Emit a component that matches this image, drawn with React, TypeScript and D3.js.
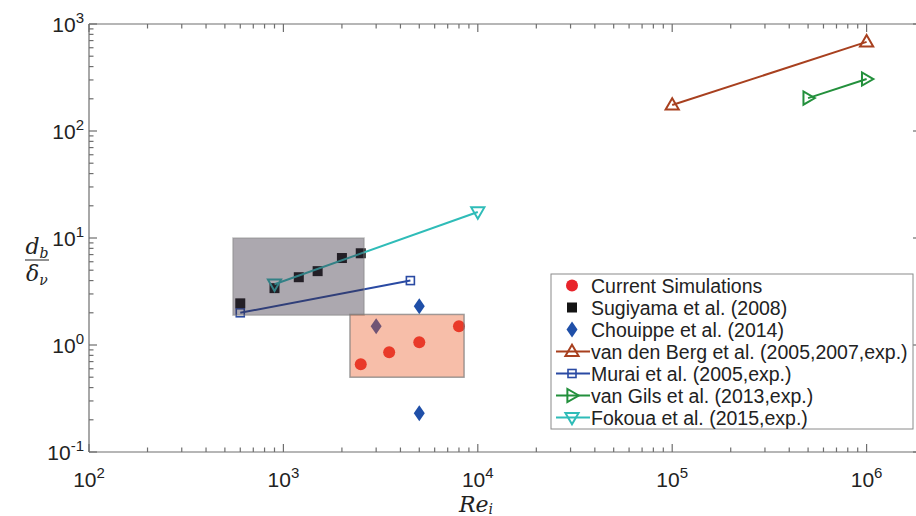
import React from 'react';
import * as d3 from 'd3';

// ---- data ----
const simRe = [2500, 3500, 5000, 8000];
const simDb = [0.66, 0.855, 1.06, 1.5];
const sugRe = [600, 900, 1200, 1500, 2000, 2500];
const sugDb = [2.45, 3.4, 4.3, 4.9, 6.5, 7.2];
const chouRe = [5000, 3000, 5000];
const chouDb = [2.3, 1.5, 0.23];
const bergRe = [1e5, 1e6];
const bergDb = [175, 680];
const muraiRe = [600, 4500];
const muraiDb = [2.0, 4.0];
const gilsRe = [5e5, 1e6];
const gilsDb = [203, 306];
const fokRe = [900, 1e4];
const fokDb = [3.7, 17.5];
const greyBoxRe = [550, 2600];
const greyBoxDb = [1.9, 10];
const pinkBoxRe = [2200, 8500];
const pinkBoxDb = [0.5, 1.93];
const xTickExp = [2, 3, 4, 5, 6];
const yTickExp = [-1, 0, 1, 2, 3];
const legendLabels = [
  'Current Simulations',
  'Sugiyama et al. (2008)',
  'Chouippe et al. (2014)',
  'van den Berg et al. (2005,2007,exp.)',
  'Murai et al. (2005,exp.)',
  'van Gils et al. (2013,exp.)',
  'Fokoua et al. (2015,exp.)',
];

const C = {
  red: '#e8242b',
  black: '#141414',
  blue: '#1f4fa8',
  brown: '#a8401f',
  murai: '#2a4aa3',
  green: '#23903c',
  teal: '#2fbcb8',
  axis: '#6e6e6e',
};

const W = 916, H = 516;
const L = 89, T = 24, B = 452, R = 921;

const x = d3.scaleLog().domain([1e2, Math.pow(10, 2 + (R - L) / 194.4)]).range([L, R]);
const y = d3.scaleLog().domain([1e-1, 1e3]).range([B, T]);

const FONT = '"Liberation Sans", Arial, Helvetica, sans-serif';
const SERIF = '"DejaVu Serif", "Liberation Serif", serif';

function triPath(dir: string, s: number) {
  const a = s * 0.62, b = s * 0.42, w = s * 0.6;
  let pts: number[][];
  if (dir === 'up') pts = [[0, -a], [w, b], [-w, b]];
  else if (dir === 'down') pts = [[0, a], [w, -b], [-w, -b]];
  else pts = [[a, 0], [-b, -w], [-b, w]];
  return 'M' + pts.map(p => p.join(',')).join('L') + 'Z';
}

function Marker({ kind, cx, cy, color }: { kind: string; cx: number; cy: number; color: string }) {
  if (kind === 'circle') return <circle cx={cx} cy={cy} r={6} fill={color} />;
  if (kind === 'fsquare') return <rect x={cx - 5} y={cy - 5} width={10} height={10} fill={color} />;
  if (kind === 'diamond') return <path d={`M${cx},${cy - 8}L${cx + 5.5},${cy}L${cx},${cy + 8}L${cx - 5.5},${cy}Z`} fill={color} />;
  if (kind === 'osquare') return <rect x={cx - 4} y={cy - 4} width={8} height={8} fill="none" stroke={color} strokeWidth={1.6} />;
  return <path d={triPath(kind, 11)} transform={`translate(${cx},${cy})`} fill="none" stroke={color} strokeWidth={2} strokeLinejoin="miter" />;
}

const lineGen = d3.line<[number, number]>().x(d => x(d[0])).y(d => y(d[1]));

function Series({ re, db, kind, color, line }: { re: number[]; db: number[]; kind: string; color: string; line?: boolean }) {
  const pts = re.map((r, i) => [r, db[i]] as [number, number]);
  return (
    <g>
      {line && <path d={lineGen(pts) || ''} fill="none" stroke={color} strokeWidth={2} />}
      {pts.map((p, i) => <Marker key={i} kind={kind} cx={x(p[0])} cy={y(p[1])} color={color} />)}
    </g>
  );
}

export default function App() {
  const xMinor: number[] = [];
  for (let e = 2; e <= 6; e++) for (let m = 2; m <= 9; m++) {
    const v = m * Math.pow(10, e);
    if (v <= x.domain()[1]) xMinor.push(v);
  }
  const yMinor: number[] = [];
  for (let e = -1; e <= 2; e++) for (let m = 2; m <= 9; m++) yMinor.push(m * Math.pow(10, e));

  const legendItems = [
    { kind: 'circle', color: C.red, line: false },
    { kind: 'fsquare', color: C.black, line: false },
    { kind: 'diamond', color: C.blue, line: false },
    { kind: 'up', color: C.brown, line: true },
    { kind: 'osquare', color: C.murai, line: true },
    { kind: 'right', color: C.green, line: true },
    { kind: 'down', color: C.teal, line: true },
  ];
  const lgX = 551, lgY = 274, lgW = 362, lgH = 155, lgRow = 22;

  return (
    <svg width={W} height={H} style={{ position: 'absolute', left: 0, top: 0, background: '#fff' }}>
      <rect width={W} height={H} fill="#fff" />
      <defs>
        <clipPath id="plot"><rect x={L} y={T} width={R - L} height={B - T} /></clipPath>
      </defs>

      <g clipPath="url(#plot)">
        <Series re={chouRe} db={chouDb} kind="diamond" color={C.blue} />
        <Series re={sugRe} db={sugDb} kind="fsquare" color={C.black} />
        <Series re={bergRe} db={bergDb} kind="up" color={C.brown} line />
        <Series re={muraiRe} db={muraiDb} kind="osquare" color={C.murai} line />
        <Series re={gilsRe} db={gilsDb} kind="right" color={C.green} line />
        <Series re={fokRe} db={fokDb} kind="down" color={C.teal} line />
        <Series re={simRe} db={simDb} kind="circle" color={C.red} />
        <rect x={x(greyBoxRe[0])} y={y(greyBoxDb[1])} width={x(greyBoxRe[1]) - x(greyBoxRe[0])} height={y(greyBoxDb[0]) - y(greyBoxDb[1])}
          fill="#3a3040" fillOpacity={0.42} stroke="#8a8a8a" strokeOpacity={0.5} strokeWidth={1.5} />
        <rect x={x(pinkBoxRe[0])} y={y(pinkBoxDb[1])} width={x(pinkBoxRe[1]) - x(pinkBoxRe[0])} height={y(pinkBoxDb[0]) - y(pinkBoxDb[1])}
          fill="#eb5c29" fillOpacity={0.4} stroke="#7a7a7a" strokeOpacity={0.7} strokeWidth={1.5} />
      </g>

      {/* axes box */}
      <g stroke={C.axis} strokeWidth={1.2} fill="none">
        <line x1={L} y1={T} x2={R} y2={T} />
        <line x1={L} y1={B} x2={R} y2={B} />
        <line x1={L} y1={T} x2={L} y2={B} />
        <line x1={R} y1={T} x2={R} y2={B} />
        {xTickExp.map(e => {
          const px = x(Math.pow(10, e));
          return <g key={'xm' + e}><line x1={px} y1={B} x2={px} y2={B - 8} /><line x1={px} y1={T} x2={px} y2={T + 8} /></g>;
        })}
        {xMinor.map((v, i) => {
          const px = x(v);
          return <g key={'xn' + i}><line x1={px} y1={B} x2={px} y2={B - 4.5} /><line x1={px} y1={T} x2={px} y2={T + 4.5} /></g>;
        })}
        {yTickExp.map(e => {
          const py = y(Math.pow(10, e));
          return <g key={'ym' + e}><line x1={L} y1={py} x2={L + 8} y2={py} /><line x1={R} y1={py} x2={R - 8} y2={py} /></g>;
        })}
        {yMinor.map((v, i) => {
          const py = y(v);
          return <g key={'yn' + i}><line x1={L} y1={py} x2={L + 4.5} y2={py} /><line x1={R} y1={py} x2={R - 4.5} y2={py} /></g>;
        })}
      </g>

      {/* tick labels */}
      <g fontFamily={FONT} fontSize={21} fill="#222">
        {xTickExp.map(e => (
          <text key={'xl' + e} x={x(Math.pow(10, e))} y={B + 35} textAnchor="middle">10<tspan dy={-9} fontSize={15}>{e}</tspan></text>
        ))}
        {yTickExp.map(e => (
          <text key={'yl' + e} x={L - 5} y={y(Math.pow(10, e)) + 8} textAnchor="end">10<tspan dy={-9} fontSize={15}>{e}</tspan></text>
        ))}
      </g>

      {/* axis labels */}
      <text x={476} y={512} textAnchor="middle" fontFamily={SERIF} fontStyle="italic" fontSize={22} fill="#222">
        Re<tspan fontSize={14} dy={2}>i</tspan>
      </text>
      <g fontFamily={SERIF} fontStyle="italic" fill="#222">
        <text x={37} y={254} textAnchor="middle" fontSize={22}>d<tspan fontSize={14} dy={4}>b</tspan></text>
        <line x1={25} x2={49} y1={260} y2={260} stroke="#222" strokeWidth={1} />
        <text x={37} y={281} textAnchor="middle" fontSize={22}>δ<tspan fontSize={14} dy={4}>ν</tspan></text>
      </g>

      {/* legend */}
      <g>
        <rect x={lgX} y={lgY} width={lgW} height={lgH} fill="#fff" stroke="#8a8a8a" strokeWidth={1} />
        {legendItems.map((it, i) => {
          const cy = lgY + 11.5 + i * lgRow;
          return (
            <g key={'lg' + i}>
              {it.line && <line x1={lgX + 5} x2={lgX + 39} y1={cy} y2={cy} stroke={it.color} strokeWidth={2} />}
              <Marker kind={it.kind} cx={lgX + 21} cy={cy} color={it.color} />
              <text x={lgX + 40} y={cy + 7} fontFamily={FONT} fontSize={19.5} fill="#222">{legendLabels[i]}</text>
            </g>
          );
        })}
      </g>
    </svg>
  );
}
